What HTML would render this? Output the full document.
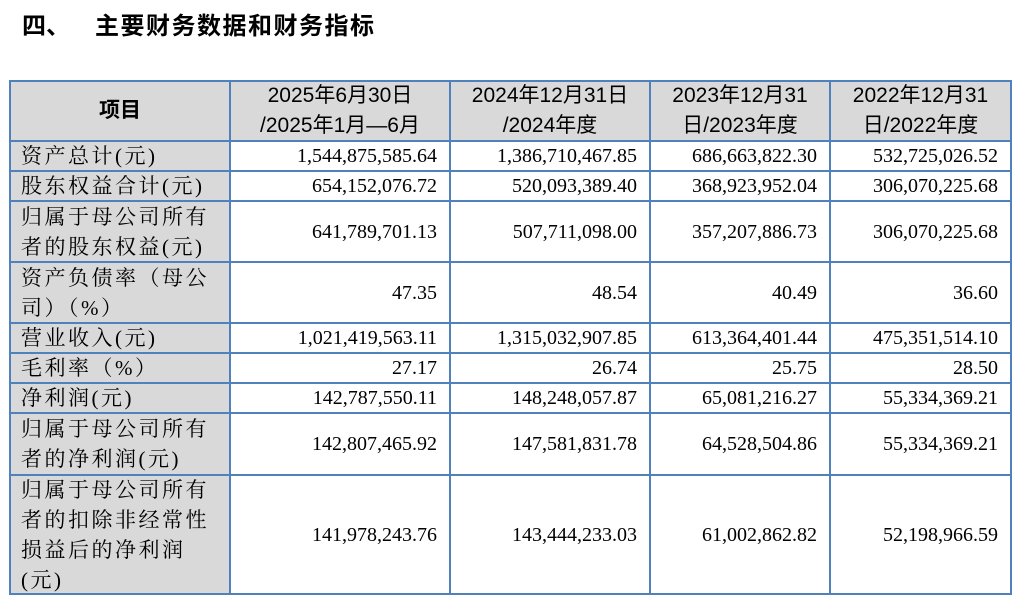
<!DOCTYPE html>
<html><head><meta charset="utf-8"><style>
body{margin:0;width:1020px;height:603px;background:#fff;position:relative;overflow:hidden;font-family:"Liberation Serif","Noto Serif CJK SC",serif;color:#000}
.t{position:absolute;top:6px;font-family:"Liberation Sans","Noto Sans CJK SC",sans-serif;font-weight:bold;font-size:24px}
.c{position:absolute;box-sizing:border-box;border:2px solid #4f81bd;display:flex;align-items:center;font-size:20px;line-height:30px;margin:-1px 0 0 -1px}
.g{background:#d9d9d9}
.h{justify-content:center;text-align:center}
.r{justify-content:flex-end;padding-right:12px}
.l{padding-left:10px;font-family:"Liberation Serif","Noto Serif CJK SC",serif;font-size:21px;letter-spacing:2.5px}
</style></head><body>
<div class="t" style="left:22px">四、</div>
<div class="t" style="left:95px;letter-spacing:1.5px">主要财务数据和财务指标</div>
<div id="tb"></div>
<script>
var xs=[10,230,450,650,830,1011];
var ys=[81,141,171,201,262,323,353,383,413,475,594];
var rows=[
["<b>项目</b>","2025年6月30日<br>/2025年1月—6月","2024年12月31日<br>/2024年度","2023年12月31<br>日/2023年度","2022年12月31<br>日/2022年度"],
["资产总计(元)","1,544,875,585.64","1,386,710,467.85","686,663,822.30","532,725,026.52"],
["股东权益合计(元)","654,152,076.72","520,093,389.40","368,923,952.04","306,070,225.68"],
["归属于母公司所有<br>者的股东权益(元)","641,789,701.13","507,711,098.00","357,207,886.73","306,070,225.68"],
["资产负债率（母公<br>司）（%）","47.35","48.54","40.49","36.60"],
["营业收入(元)","1,021,419,563.11","1,315,032,907.85","613,364,401.44","475,351,514.10"],
["毛利率（%）","27.17","26.74","25.75","28.50"],
["净利润(元)","142,787,550.11","148,248,057.87","65,081,216.27","55,334,369.21"],
["归属于母公司所有<br>者的净利润(元)","142,807,465.92","147,581,831.78","64,528,504.86","55,334,369.21"],
["归属于母公司所有<br>者的扣除非经常性<br>损益后的净利润<br>(元)","141,978,243.76","143,444,233.03","61,002,862.82","52,198,966.59"]];
var h="";
for(var i=0;i<rows.length;i++)for(var j=0;j<5;j++){
var cls="c";
if(i==0)cls+=" g h";
else if(j==0)cls+=" g l";else cls+=" r";
var st="left:"+xs[j]+"px;top:"+ys[i]+"px;width:"+(xs[j+1]-xs[j]+2)+"px;height:"+(ys[i+1]-ys[i]+2)+"px;";
if(i==0)st+="font-family:'Liberation Sans','Noto Sans CJK SC',sans-serif;font-size:21px;";
h+='<div class="'+cls+'" style="'+st+'"><div>'+rows[i][j]+'</div></div>';}
document.getElementById("tb").innerHTML=h;
</script>
</body></html>
